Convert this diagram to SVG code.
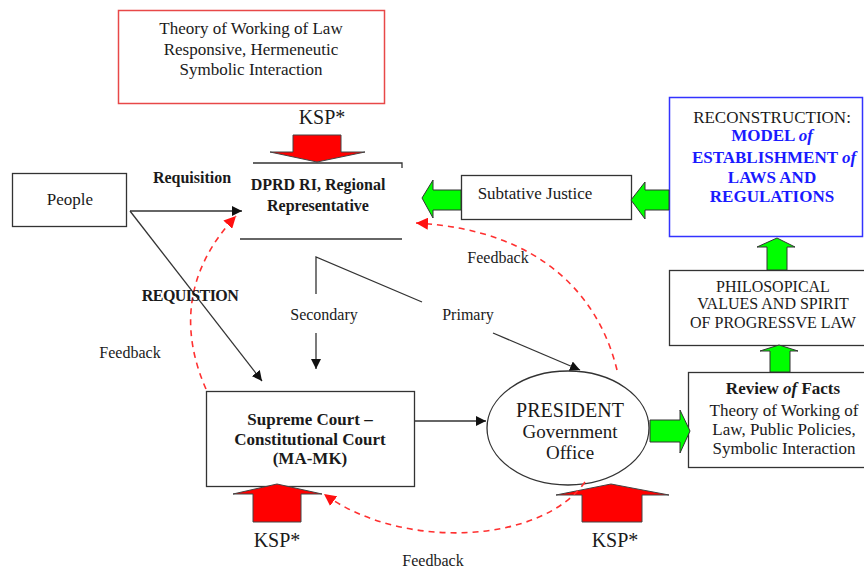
<svg xmlns="http://www.w3.org/2000/svg" width="864" height="570" viewBox="0 0 864 570">
<defs>
<style>
text{font-family:"Liberation Serif","Times New Roman",serif;fill:#1a1a1a;text-anchor:middle}
.t17{font-size:17px}
.b{font-weight:bold}
.ksp{font-size:20px}
.box{fill:#fff;stroke:#333;stroke-width:1.3}
.ln{fill:none;stroke:#333;stroke-width:1.3}
.fb{fill:none;stroke:#ff3030;stroke-width:1.6;stroke-dasharray:6,5}
.red{fill:#ff0000;stroke:#444;stroke-width:1}
.grn{fill:#00ff00;stroke:#333;stroke-width:1}
.blue{fill:#1a1aff}
</style>
<marker id="ah" viewBox="0 0 10 10" refX="10" refY="5" markerWidth="10" markerHeight="10" markerUnits="userSpaceOnUse" orient="auto"><path d="M0,0 L10,5 L0,10 Z" fill="#111"/></marker>
<marker id="rh" viewBox="0 0 10 10" refX="10" refY="5" markerWidth="12" markerHeight="12" markerUnits="userSpaceOnUse" orient="auto"><path d="M0,0 L10,5 L0,10 Z" fill="#ff1010"/></marker>
</defs>

<g id="theory">
<rect x="118.5" y="10.5" width="266" height="93" fill="#fff" stroke="#e84848" stroke-width="1.5"/>
<text class="t17" x="251" y="34">Theory of Working of Law</text>
<text class="t17" x="251" y="55">Responsive,  Hermeneutic</text>
<text class="t17" x="251" y="75">Symbolic Interaction</text>
</g>

<g id="ksp-top">
<text class="ksp" x="322" y="124">KSP*</text>
<path class="red" d="M293,135 H341 V152 H365 L317,162 L270,152 H293 Z"/>
</g>

<g id="dprd">
<path class="ln" d="M253,163 H402 V168"/>
<path class="ln" d="M240,239 H402"/>
<text class="t17 b" x="318" y="190" style="font-size:16px">DPRD RI, Regional</text>
<text class="t17 b" x="318" y="211" style="font-size:16px">Representative</text>
</g>

<g id="people">
<rect class="box" x="12.5" y="173.5" width="114" height="53"/>
<text class="t17" x="70" y="205">People</text>
</g>

<g id="subtative">
<rect class="box" x="461.5" y="175.5" width="170" height="44"/>
<text class="t17" x="535" y="199">Subtative  Justice</text>
</g>

<g id="reconstruction">
<rect x="669.5" y="97.5" width="193" height="139" fill="#fff" stroke="#3333ff" stroke-width="1.5"/>
<text class="t17" x="772" y="123">RECONSTRUCTION:</text>
<text class="t17 b blue" x="772" y="141">MODEL <tspan font-style="italic">of</tspan></text>
<text class="t17 b blue" x="774" y="163">ESTABLISHMENT  <tspan font-style="italic">of</tspan></text>
<text class="t17 b blue" x="772" y="183">LAWS AND</text>
<text class="t17 b blue" x="772" y="202">REGULATIONS</text>
</g>

<g id="philosophical">
<rect class="box" x="669.5" y="270.5" width="200" height="75"/>
<text x="773" y="292" style="font-size:16px">PHILOSOPICAL</text>
<text x="773" y="309" style="font-size:16px">VALUES AND SPIRIT</text>
<text x="773" y="328" style="font-size:16px">OF PROGRESSVE LAW</text>
</g>

<g id="review">
<rect class="box" x="688.5" y="372.5" width="180" height="95"/>
<text class="t17 b" x="783" y="394">Review <tspan font-style="italic">of</tspan> Facts</text>
<text class="t17" x="784" y="416">Theory of Working of</text>
<text class="t17" x="784" y="435">Law, Public Policies,</text>
<text class="t17" x="784" y="454">Symbolic Interaction</text>
</g>

<g id="supreme-court">
<rect class="box" x="206.5" y="391.5" width="208" height="95"/>
<text class="t17 b" x="310" y="425">Supreme Court –</text>
<text class="t17 b" x="310" y="445">Constitutional Court</text>
<text class="t17 b" x="310" y="464">(MA-MK)</text>
</g>

<g id="president">
<ellipse cx="568" cy="428" rx="81" ry="57" fill="#fff" stroke="#333" stroke-width="1.3"/>
<text x="570" y="417" style="font-size:20px">PRESIDENT</text>
<text x="570" y="438" style="font-size:19px">Government</text>
<text x="570" y="459" style="font-size:19px">Office</text>
</g>

<g id="ksp-bottom-left">
<path class="red" d="M253,522 V494 H233 L277,484 L322,494 H301 V522 Z"/>
<text class="ksp" x="277" y="547">KSP*</text>
</g>

<g id="ksp-bottom-right">
<path class="red" d="M582,522 V495 H556 L611,484 L669,495 H642 V522 Z"/>
<text class="ksp" x="615" y="547">KSP*</text>
</g>

<g id="connectors">
<path class="ln" d="M130,211 H242" marker-end="url(#ah)"/>
<path class="ln" d="M130,211 L262,381" marker-end="url(#ah)"/>
<path class="ln" d="M316,294 V257 L422,302"/>
<path class="ln" d="M316,333 V369" marker-end="url(#ah)"/>
<path class="ln" d="M493,333 L580,370" marker-end="url(#ah)"/>
<path class="ln" d="M415,421 H486" marker-end="url(#ah)"/>
<path class="fb" d="M206,389 C180,330 185,270 236,216" marker-end="url(#rh)"/>
<path class="fb" d="M617,370 C600,300 545,230 416,223" marker-end="url(#rh)"/>
<path class="fb" d="M585,482 C540,545 400,550 324,494" marker-end="url(#rh)"/>
<path class="grn" d="M669,190 V210 H645 V219 L631,200 L645,182 V190 Z"/>
<path class="grn" d="M461,190 V210 H433 V218 L422,198 L433,180 V190 Z"/>
<path class="grn" d="M767,270 V247 H757 L777,238 L795,247 H787 V270 Z"/>
<path class="grn" d="M770,372 V351 H760 L779,345 L798,351 H790 V372 Z"/>
<path class="grn" d="M650,420 H680 V410 L690,431 L680,453 V442 H650 Z"/>
<text class="t17 b" x="192" y="183" style="font-size:16px">Requisition</text>
<text class="t17 b" x="190" y="301" style="font-size:16px;letter-spacing:-0.6px">REQUISTION</text>
<text class="t17" x="130" y="358" style="font-size:16px">Feedback</text>
<text class="t17" x="324" y="320" style="font-size:16px">Secondary</text>
<text class="t17" x="468" y="320" style="font-size:16px">Primary</text>
<text class="t17" x="498" y="263" style="font-size:16px">Feedback</text>
<text class="t17" x="433" y="566" style="font-size:16px">Feedback</text>
</g>
</svg>
